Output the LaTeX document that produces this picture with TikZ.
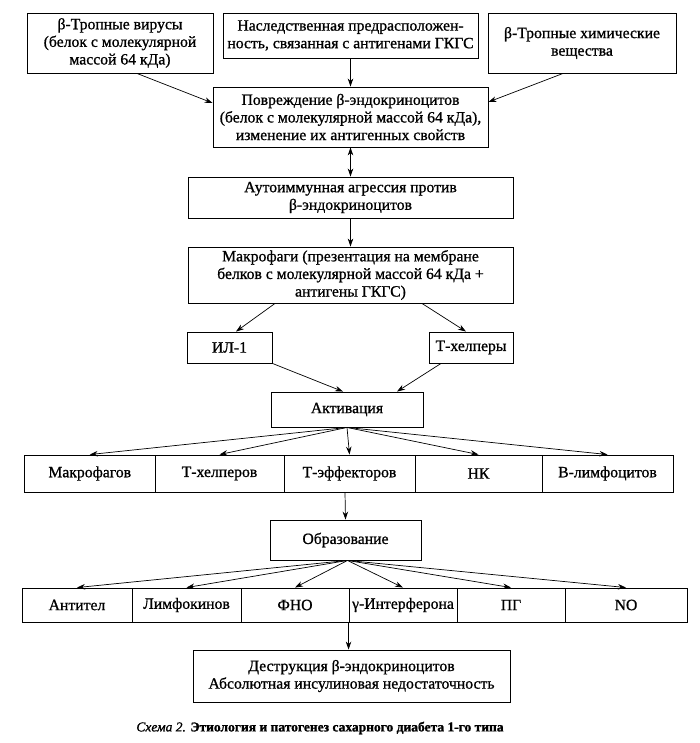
\documentclass[tikz,border=0pt]{standalone}
\usepackage{fontspec}
\setmainfont{Liberation Serif}[FakeBold=1.2]
\newfontfamily\heavy{Liberation Serif}[FakeBold=0.9]
\usetikzlibrary{arrows.meta}
\begin{document}
\begin{tikzpicture}[x=1pt,y=-1pt,
  box/.style={draw,line width=0.9pt,align=center,inner sep=1pt,font=\heavy\fontsize{15.7}{17.6}\selectfont},
  arr/.style={line width=0.7pt,-{Stealth[length=8pt,width=5.5pt]}},
  darr/.style={line width=0.7pt,{Stealth[length=8pt,width=5.5pt]}-{Stealth[length=8pt,width=5.5pt]}}]
\useasboundingbox (0,0) rectangle (699,743);
\node[box,minimum width=186pt,minimum height=60pt] (b1) at (120,43) {β-Тропные вирусы\\(белок с молекулярной\\массой 64 кДа)};
\node[box,minimum width=255pt,minimum height=45pt] (b2) at (350.5,35.5) {Наследственная предрасположен-\\ность, связанная с антигенами ГКГС};
\node[box,minimum width=188pt,minimum height=60pt] (b3) at (582,43) {β-Тропные химические\\вещества};
\node[box,minimum width=275pt,minimum height=60pt] (b4) at (350.5,117) {Повреждение β-эндокриноцитов\\(белок с молекулярной массой 64 кДа),\\изменение их антигенных свойств};
\node[box,minimum width=325pt,minimum height=41pt] (b5) at (350.5,197.5) {Аутоиммунная агрессия против\\β-эндокриноцитов};
\node[box,minimum width=325pt,minimum height=56pt] (b6) at (350.5,275) {Макрофаги (презентация на мембране\\белков с молекулярной массой 64 кДа +\\антигены ГКГС)};
\node[box,minimum width=85pt,minimum height=31pt] (il) at (229.5,347.5) {ИЛ-1};
\node[box,minimum width=84pt,minimum height=31pt] (th) at (471,347.5) {Т-хелперы};
\node[box,minimum width=152pt,minimum height=35pt] (act) at (347,409.5) {Активация};
\node[box,minimum width=130.5pt,minimum height=37pt] (m1) at (89.75,473.5) {Макрофагов};
\node[box,minimum width=129pt,minimum height=37pt] (m2) at (219.5,473.5) {Т-хелперов};
\node[box,minimum width=131pt,minimum height=37pt] (m3) at (349.5,473.5) {Т-эффекторов};
\node[box,minimum width=127pt,minimum height=37pt] (m4) at (478.5,473.5) {НК};
\node[box,minimum width=131pt,minimum height=37pt] (m5) at (607.5,473.5) {В-лимфоцитов};
\node[box,minimum width=151pt,minimum height=40pt] (obr) at (345.5,540) {Образование};
\node[box,minimum width=110pt,minimum height=34pt] (n1) at (77,605) {Антител};
\node[box,minimum width=109pt,minimum height=34pt] (n2) at (186.5,605) {Лимфокинов};
\node[box,minimum width=108pt,minimum height=34pt] (n3) at (295,605) {ФНО};
\node[box,minimum width=108pt,minimum height=34pt,inner sep=0pt] (n4) at (403,605) {γ-Интерферона};
\node[box,minimum width=108pt,minimum height=34pt] (n5) at (511,605) {ПГ};
\node[box,minimum width=122pt,minimum height=34pt] (n6) at (626,605) {NO};
\node[box,minimum width=317pt,minimum height=52pt] (des) at (351.5,676) {Деструкция β-эндокриноцитов\\Абсолютная инсулиновая недостаточность};
\node[font=\fontsize{13.5}{15}\selectfont] (cap) at (320,728) {\textit{Схема 2.} \textbf{Этиология и патогенез сахарного диабета 1-го типа}};
% arrows
\draw[arr] ([xshift=17pt]b1.south) -- ([yshift=14pt]b4.west);
\draw[arr] (b2.south) -- (b4.north);
\draw[arr] ([xshift=-19pt]b3.south) -- ([yshift=15pt]b4.east);
\draw[darr] (b4.south) -- (b5.north);
\draw[arr] (b5.south) -- (b6.north);
\draw[arr] ([xshift=-75.5pt]b6.south) -- ([xshift=6.5pt]il.north);
\draw[arr] ([xshift=71.5pt]b6.south) -- ([xshift=-5pt]th.north);
\draw[arr] (il.south east) -- ([xshift=-4pt]act.north);
\draw[arr] ([xshift=-30pt]th.south) -- ([xshift=50pt]act.north);
\foreach \m in {m1,m2,m3,m4,m5} \draw[arr] (act.south) -- (\m.north);
\draw[arr] ([xshift=-4.5pt]m3.south) -- (obr.north);
\foreach \m in {n1,n2,n3,n4,n5,n6} \draw[arr] ([xshift=2pt]obr.south) -- (\m.north);
\draw[arr] (n4.south west) -- (des.north -| n4.south west);
\end{tikzpicture}
\end{document}
